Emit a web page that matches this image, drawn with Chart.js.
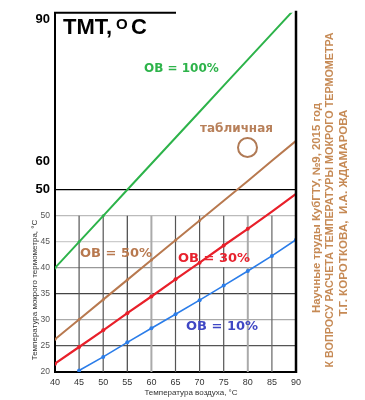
<!DOCTYPE html>
<html>
<head>
<meta charset="utf-8">
<script src="https://cdn.jsdelivr.net/npm/chart.js@4/dist/chart.umd.min.js"></script>
<style>
  html, body { margin: 0; padding: 0; background: #fff; }
  #wrap { width: 365px; height: 400px; position: relative; }
</style>
</head>
<body>
<div id="wrap"><canvas id="chart"></canvas></div>
<script>
// температура воздуха, °C
const airTemp = [40, 45, 50, 55, 60, 65, 70, 75, 80, 85, 90];
// температура мокрого термометра при разной ОВ
const wet100 = [40, 45, 50, 55, 60, 65, 70, 75, 80, 85, 90];
const wet50 = [26.3, 30.1, 33.9, 37.7, 41.5, 45.3, 49.1, 52.9, 56.7, 60.6, 64.4];
const wet30 = [21.6, 24.8, 28.0, 31.3, 34.5, 37.8, 41.0, 44.3, 47.5, 50.8, 54.2];
const wet10 = [null, 20.3, 22.9, 25.7, 28.4, 31.1, 33.8, 36.6, 39.4, 42.3, 45.4];

const seriesNames = ["ОВ = 100%", "ОВ = 50%", "ОВ = 30%", "ОВ = 10%"];

// lower plot ticks + the big labels pasted on the upper part
const yTicksSmall = [20, 25, 30, 35, 40, 45, 50];
const yBigLabels = ["50", "60", "90"];
const yBigAt = [55, 60.4, 87.8];

const SANS = "'Liberation Sans', Arial, sans-serif";
const DEJAVU = "'DejaVu Sans', sans-serif";

const yGridColor = { 25: "#555", 30: "#aaa", 35: "#444", 40: "#999", 45: "#ccc", 50: "#bbb", 55: "#000" };
const xGridStyle = { 45: ["#555", 1.2], 50: ["#555", 1.2], 55: ["#444", 1.2], 60: ["#aaa", 2], 65: ["#555", 1.2],
  70: ["#555", 1.2], 75: ["#555", 1.2], 80: ["#aaa", 2], 85: ["#666", 1.2] };

const pts = vals => airTemp.map((t, i) => ({ x: t, y: vals[i] })).filter(p => p.y !== null);
const lowDots = r => ctx => (ctx.raw && ctx.raw.y <= 50 ? r : 0);

function line(label, vals, color, w, r) {
  return {
    label: label, data: pts(vals), borderColor: color, backgroundColor: color,
    borderWidth: w, pointRadius: lowDots(r), pointBorderWidth: 0, tension: 0
  };
}

const decor = {
  id: "decor",
  beforeDatasetsDraw(chart) {
    const { ctx, chartArea: a, scales: { x, y } } = chart;
    const yTop = y.getPixelForValue(50);
    ctx.save();
    x.ticks.forEach(t => {
      const st = xGridStyle[t.value];
      if (!st) return;
      const px = x.getPixelForValue(t.value);
      ctx.strokeStyle = st[0];
      ctx.lineWidth = st[1];
      ctx.beginPath();
      ctx.moveTo(px, yTop);
      ctx.lineTo(px, a.bottom);
      ctx.stroke();
    });
    // white patch behind the 30% label, as in the scan
    ctx.fillStyle = "#fff";
    ctx.fillRect(214, 261, 50, 6);
    ctx.restore();
  },
  afterDatasetsDraw(chart) {
    const { ctx, chartArea: a } = chart;
    ctx.save();
    ctx.strokeStyle = "#000";
    ctx.lineWidth = 2.5;
    ctx.beginPath();
    ctx.moveTo(a.right, a.top - 2);
    ctx.lineTo(a.right, a.bottom + 1);
    ctx.stroke();
    ctx.lineWidth = 2;
    ctx.beginPath();
    ctx.moveTo(a.left - 1, a.top);
    ctx.lineTo(176, a.top);
    ctx.stroke();

    // title ТМТ,°С
    ctx.fillStyle = "#000";
    ctx.textBaseline = "alphabetic";
    ctx.textAlign = "left";
    ctx.font = "bold 22px " + SANS;
    ctx.fillText("ТМТ,", 63, 34);
    ctx.font = "bold 15px " + SANS;
    ctx.fillText("O", 116, 29);
    ctx.font = "bold 22px " + SANS;
    ctx.fillText("С", 131, 34);

    // series labels
    ctx.font = "bold 12px " + DEJAVU;
    ctx.fillStyle = "#2db34a";
    ctx.fillText(seriesNames[0], 144, 72);
    ctx.fillStyle = "#b8805a";
    ctx.fillText("табличная", 200, 132);
    ctx.strokeStyle = "#b07a55";
    ctx.lineWidth = 2;
    ctx.beginPath();
    ctx.arc(247.5, 147.5, 9.5, 0, Math.PI * 2);
    ctx.stroke();

    ctx.font = "bold 13px " + DEJAVU;
    ctx.fillStyle = "#b8794f";
    ctx.fillText(seriesNames[1], 80, 257);
    ctx.fillStyle = "#e8222e";
    ctx.fillText(seriesNames[2], 178, 261.5);
    ctx.fillStyle = "#3f47c4";
    ctx.fillText(seriesNames[3], 186, 330);

    // axis titles
    ctx.fillStyle = "#333";
    ctx.font = "8px " + SANS;
    ctx.textAlign = "center";
    ctx.textBaseline = "middle";
    ctx.fillText("Температура воздуха, °С", 191, 393);
    ctx.save();
    ctx.translate(35, 290);
    ctx.rotate(-Math.PI / 2);
    ctx.fillText("Температура мокрого термометра, °С", 0, 0);
    ctx.restore();

    // source notes on the right
    const notes = [
      ["Научные труды КубГТУ, №9, 2015 год", 317, 208, 210],
      ["К ВОПРОСУ РАСЧЕТА ТЕМПЕРАТУРЫ МОКРОГО ТЕРМОМЕТРА", 329.5, 200, 335],
      ["Т.Г. КОРОТКОВА,  И.А. ЖДАМАРОВА", 344, 213, 207]
    ];
    ctx.font = "bold 11px " + SANS;
    ctx.fillStyle = "#c68a55";
    notes.forEach(n => {
      const w = ctx.measureText(n[0]).width;
      ctx.save();
      ctx.translate(n[1], n[2]);
      ctx.rotate(-Math.PI / 2);
      ctx.scale(n[3] / w, 1);
      ctx.fillText(n[0], 0, 0);
      ctx.restore();
    });
    ctx.restore();
  }
};

new Chart(document.getElementById("chart"), {
  type: "line",
  data: {
    datasets: [
      line(seriesNames[0], wet100, "#2db34a", 2, 1.5),
      line(seriesNames[1], wet50, "#b8794f", 2, 1.5),
      line(seriesNames[2], wet30, "#e8202a", 2.2, 2),
      line(seriesNames[3], wet10, "#2b7de9", 1.6, 2)
    ]
  },
  options: {
    responsive: true,
    maintainAspectRatio: false,
    animation: false,
    layout: { padding: { top: 3, right: 69, left: 0, bottom: 0 } },
    plugins: { legend: { display: false }, tooltip: { enabled: false } },
    scales: {
      x: {
        type: "linear",
        min: 40,
        max: 90,
        afterBuildTicks: s => { s.ticks = airTemp.map(v => ({ value: v })); },
        afterFit: s => { s.height = 28; },
        ticks: { padding: 5, autoSkip: false, maxRotation: 0, color: "#333", font: { family: SANS, size: 9 } },
        grid: { display: false, drawTicks: false },
        border: { display: true, color: "#000", width: 2 }
      },
      y: {
        type: "linear",
        min: 20,
        max: 89,
        afterBuildTicks: s => { s.ticks = yTicksSmall.concat(yBigAt).map(v => ({ value: v })); },
        afterFit: s => { s.width = 55; },
        ticks: {
          padding: 5,
          autoSkip: false,
          callback: v => {
            const i = yBigAt.indexOf(v);
            return i >= 0 ? yBigLabels[i] : String(v);
          },
          color: c => (c.tick && c.tick.value > 50 ? "#000" : "#555"),
          font: c => (c.tick && c.tick.value > 50
            ? { family: SANS, size: 13, weight: "bold" }
            : { family: SANS, size: 8.5 })
        },
        grid: {
          drawTicks: false,
          color: c => (c.tick && yGridColor[c.tick.value]) || "rgba(0,0,0,0)",
          lineWidth: 1.2
        },
        border: { display: true, color: "#000", width: 2 }
      }
    }
  },
  plugins: [decor]
});
</script>
</body>
</html>
